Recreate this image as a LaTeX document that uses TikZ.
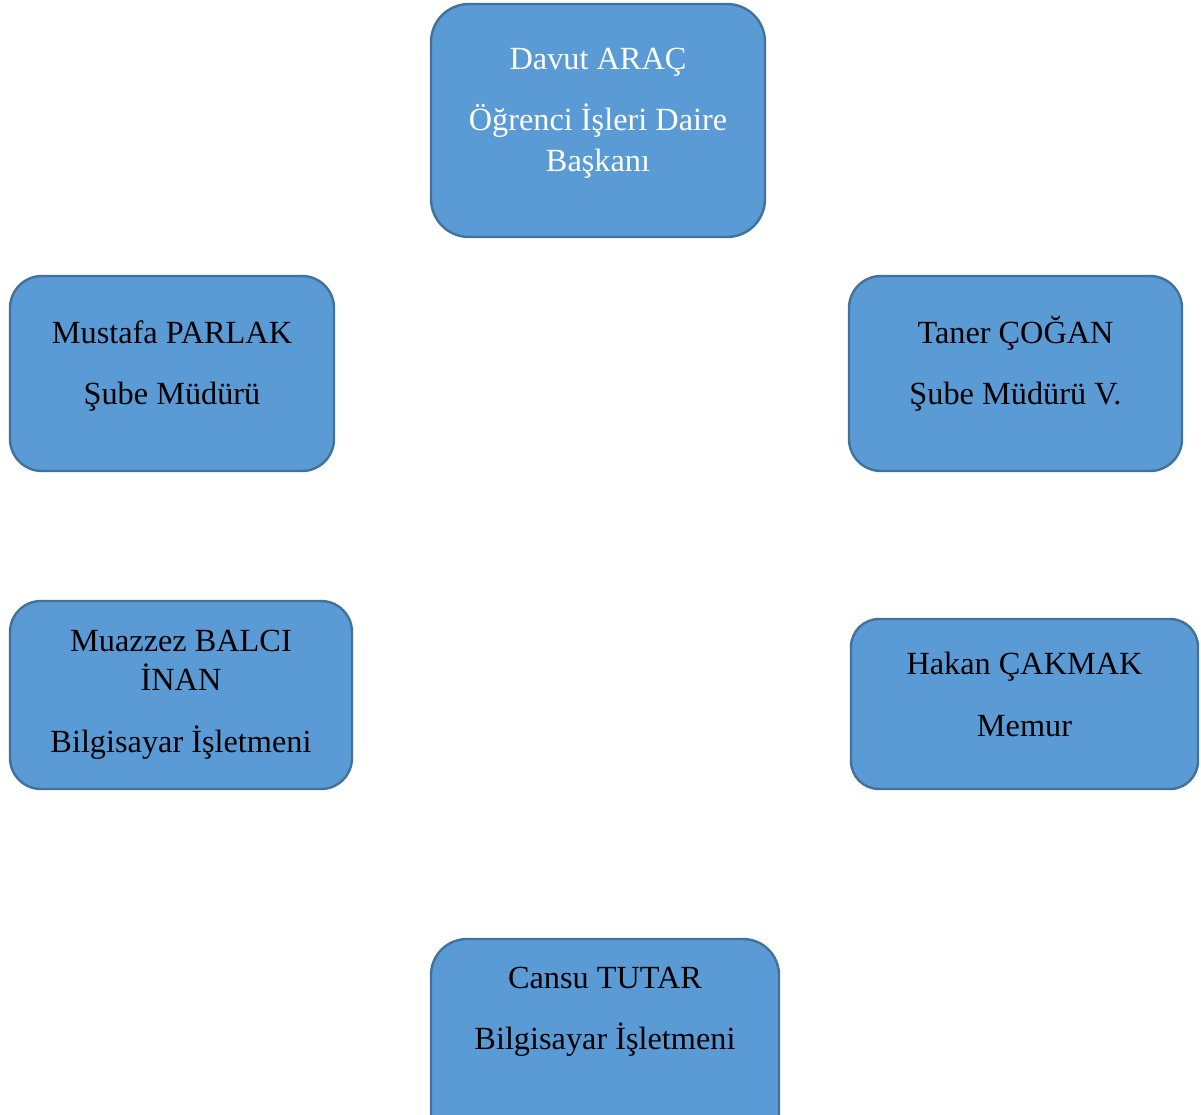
\documentclass[tikz,border=0pt]{standalone}
\usepackage{fontspec}
\setmainfont{Liberation Serif}
\definecolor{boxfill}{HTML}{5B9BD5}
\definecolor{boxline}{HTML}{41719C}
\begin{document}
\begin{tikzpicture}[x=1pt,y=-1pt,
  orgbox/.style={draw=boxline,fill=boxfill,line width=2.4pt},
  lbl/.style={anchor=base,inner sep=0pt,font=\fontsize{32.3}{38}\selectfont,text=black},
  wlbl/.style={lbl,text=white}]
\useasboundingbox (0,0) rectangle (1201,1115);
\clip (0,0) rectangle (1201,1115);
% boxes
\draw[orgbox,rounded corners=38pt] (431,4) rectangle (765,237);
\draw[orgbox,rounded corners=32pt] (10,276) rectangle (334,471);
\draw[orgbox,rounded corners=32pt] (849,276) rectangle (1182,471);
\draw[orgbox,rounded corners=31pt] (10,601) rectangle (352,789);
\draw[orgbox,rounded corners=28pt] (851,619) rectangle (1198,789);
\draw[orgbox,rounded corners=36pt] (431,939) rectangle (779,1160);
% texts
\node[wlbl] (d1) at (598,70) {Davut ARAÇ};
\node[wlbl] (d2) at (598,131) {Öğrenci İşleri Daire};
\node[wlbl] (d3) at (598,172) {Başkanı};
\node[lbl] (m1) at (172,343) {Mustafa PARLAK};
\node[lbl] (m2) at (172,404) {Şube Müdürü};
\node[lbl] (t1) at (1015.5,343) {Taner ÇOĞAN};
\node[lbl] (t2) at (1015.5,404) {Şube Müdürü V.};
\node[lbl] (z1) at (181,651) {Muazzez BALCI};
\node[lbl] (z2) at (181,690) {İNAN};
\node[lbl] (z3) at (181,752) {Bilgisayar İşletmeni};
\node[lbl] (h1) at (1024.5,674) {Hakan ÇAKMAK};
\node[lbl] (h2) at (1024.5,736) {Memur};
\node[lbl] (c1) at (605,988) {Cansu TUTAR};
\node[lbl] (c2) at (605,1049) {Bilgisayar İşletmeni};
\end{tikzpicture}
\end{document}
